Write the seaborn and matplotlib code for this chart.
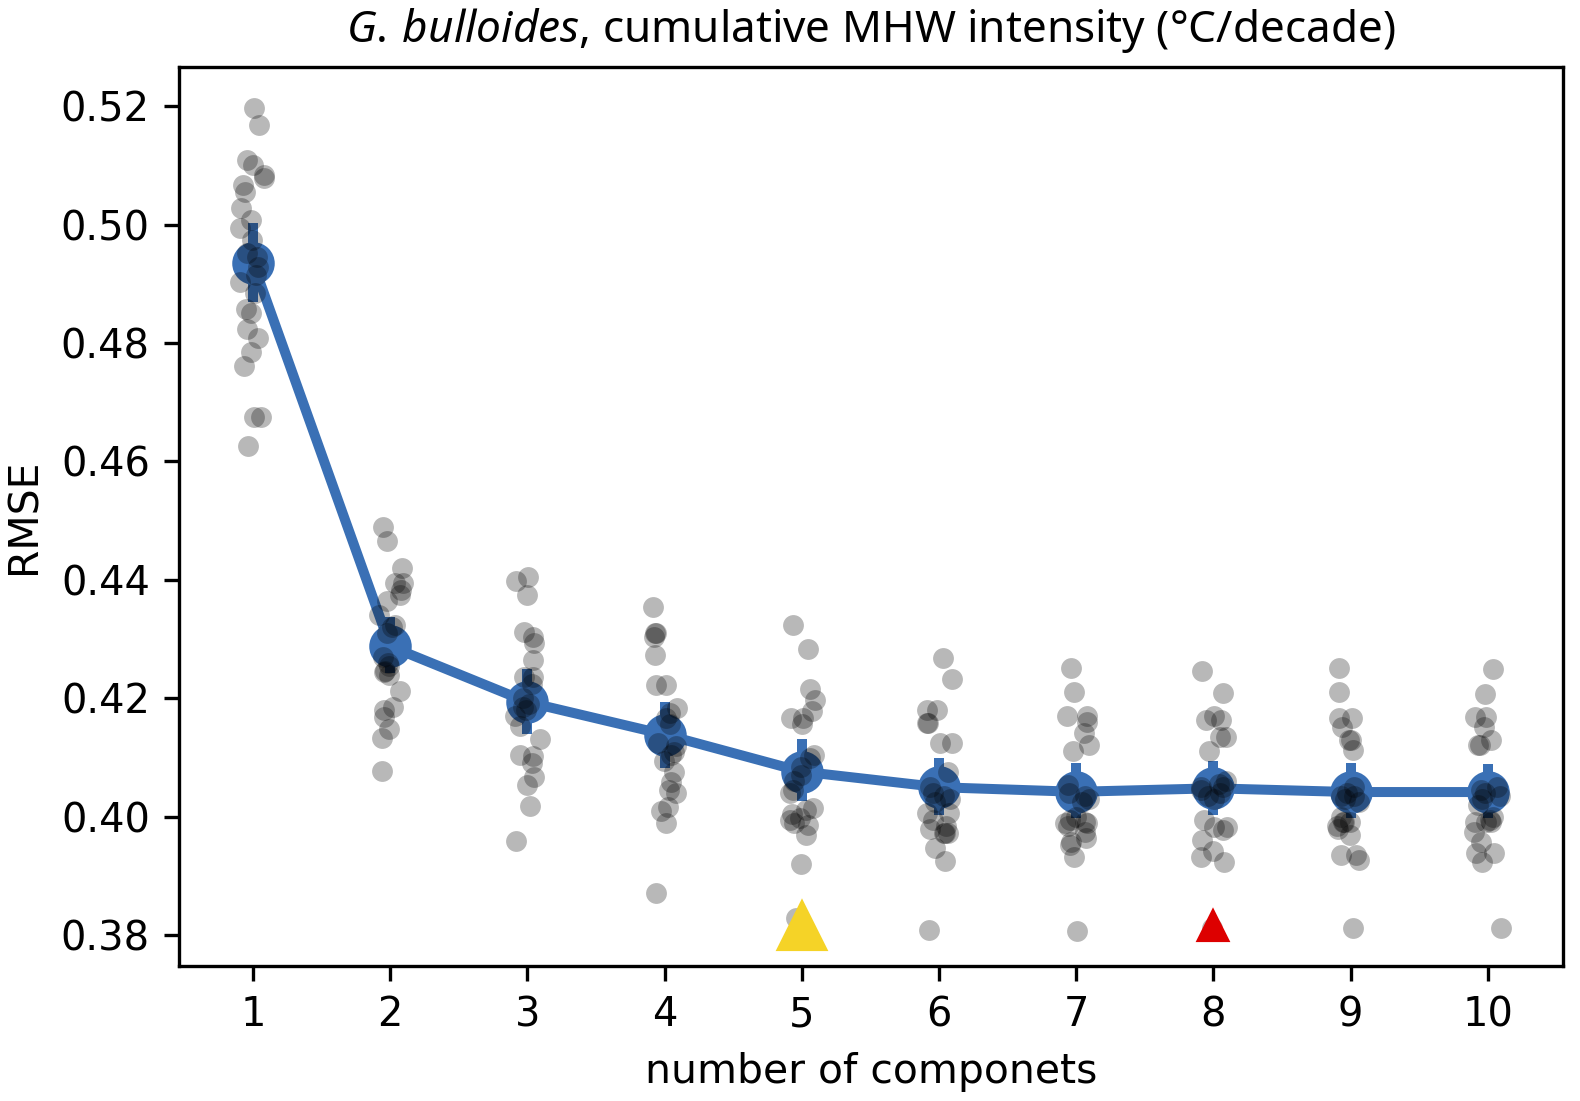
import numpy as np
import pandas as pd
import matplotlib
matplotlib.use('Agg')
import matplotlib.pyplot as plt
from matplotlib import font_manager
import seaborn as sns

# ── 1. Data: RMSE of each CV repeat, per number of components ──────────
components = [1, 2, 3, 4, 5, 6, 7, 8, 9, 10]

rmse_k1 = [0.5197, 0.5168, 0.5109, 0.5100, 0.5083, 0.5078, 0.5067, 0.5055,
           0.5028, 0.5007, 0.4994, 0.4974, 0.4945, 0.4952, 0.4928, 0.4915,
           0.4903, 0.4884, 0.4857, 0.4850, 0.4823, 0.4808, 0.4784, 0.4762,
           0.4675, 0.4675, 0.4626]
rmse_k2 = [0.4489, 0.4465, 0.4420, 0.4394, 0.4394, 0.4383, 0.4374, 0.4364,
           0.4340, 0.4323, 0.4320, 0.4310, 0.4269, 0.4260, 0.4255, 0.4245,
           0.4247, 0.4239, 0.4212, 0.4185, 0.4180, 0.4168, 0.4149, 0.4133,
           0.4077]
rmse_k3 = [0.4405, 0.4398, 0.4374, 0.4312, 0.4303, 0.4293, 0.4264, 0.4236,
           0.4236, 0.4225, 0.4200, 0.4190, 0.4185, 0.4180, 0.4170, 0.4153,
           0.4131, 0.4104, 0.4102, 0.4090, 0.4067, 0.4053, 0.4018, 0.3959]
rmse_k4 = [0.4355, 0.4310, 0.4310, 0.4303, 0.4274, 0.4222, 0.4222, 0.4183,
           0.4175, 0.4166, 0.4156, 0.4124, 0.4120, 0.4110, 0.4105, 0.4095,
           0.4075, 0.4058, 0.4045, 0.4040, 0.4016, 0.4009, 0.3989, 0.3871]
rmse_k5 = [0.4323, 0.4283, 0.4215, 0.4197, 0.4178, 0.4166, 0.4166, 0.4156,
           0.4104, 0.4100, 0.4084, 0.4070, 0.4060, 0.4045, 0.4041, 0.4015,
           0.4011, 0.4005, 0.3998, 0.3995, 0.3990, 0.3986, 0.3969, 0.3921,
           0.3829]
rmse_k6 = [0.4268, 0.4232, 0.4180, 0.4180, 0.4158, 0.4158, 0.4124, 0.4124,
           0.4075, 0.4050, 0.4040, 0.4035, 0.4030, 0.4025, 0.4006, 0.4006,
           0.3995, 0.3985, 0.3980, 0.3972, 0.3972, 0.3972, 0.3947, 0.3926,
           0.3808]
rmse_k7 = [0.4251, 0.4210, 0.4171, 0.4171, 0.4160, 0.4141, 0.4121, 0.4111,
           0.4053, 0.4040, 0.4035, 0.4030, 0.4025, 0.4000, 0.3995, 0.3991,
           0.3989, 0.3989, 0.3985, 0.3975, 0.3964, 0.3957, 0.3952, 0.3932,
           0.3807]
rmse_k8 = [0.4246, 0.4209, 0.4171, 0.4163, 0.4163, 0.4134, 0.4134, 0.4111,
           0.4060, 0.4055, 0.4050, 0.4050, 0.4045, 0.4040, 0.4035, 0.4030,
           0.3994, 0.3982, 0.3982, 0.3977, 0.3960, 0.3943, 0.3932, 0.3923,
           0.3813]
rmse_k9 = [0.4251, 0.4210, 0.4166, 0.4166, 0.4151, 0.4129, 0.4129, 0.4112,
           0.4050, 0.4040, 0.4035, 0.4035, 0.4030, 0.4025, 0.4000, 0.3991,
           0.3991, 0.3991, 0.3985, 0.3980, 0.3969, 0.3935, 0.3935, 0.3927,
           0.3812]
rmse_k10 = [0.4249, 0.4207, 0.4168, 0.4168, 0.4151, 0.4129, 0.4121, 0.4121,
            0.4050, 0.4045, 0.4040, 0.4035, 0.4030, 0.4020, 0.4000, 0.3995,
            0.3991, 0.3991, 0.3991, 0.3974, 0.3957, 0.3938, 0.3938, 0.3923,
            0.3812]

# chosen number of components (two selection criteria)
best_k_yellow = 5
best_k_red = 8
marker_rmse = 0.3815

all_rmse = [rmse_k1, rmse_k2, rmse_k3, rmse_k4, rmse_k5,
            rmse_k6, rmse_k7, rmse_k8, rmse_k9, rmse_k10]

df = pd.DataFrame({
    'k': np.concatenate([[k] * len(v) for k, v in zip(components, all_rmse)]),
    'rmse': np.concatenate(all_rmse),
})

# ── 2. Fonts ──────────────────────────────────────────────────────────
names = {f.name for f in font_manager.fontManager.ttflist}
title_font = 'Liberation Sans Narrow' if 'Liberation Sans Narrow' in names else 'Noto Sans'
plt.rcParams['font.family'] = ['DejaVu Sans']
plt.rcParams['mathtext.fontset'] = 'custom'
plt.rcParams['mathtext.rm'] = title_font
plt.rcParams['mathtext.it'] = title_font + ':italic'

blue = '#3a70b5'

# ── 3. Plot ───────────────────────────────────────────────────────────
np.random.seed(3)
fig = plt.figure(figsize=(1580 / 300, 1101 / 300), dpi=300)
ax = fig.add_axes([0.1133, 0.1226, 0.8759, 0.8165])

sns.pointplot(data=df, x='k', y='rmse', color=blue, errorbar=('ci', 95),
              seed=1, markersize=8.4, linewidth=2.4,
              err_kws={'linewidth': 2.4}, ax=ax)
sns.stripplot(data=df, x='k', y='rmse', color='black', alpha=0.28,
              size=5, linewidth=0, jitter=True, zorder=4, ax=ax)

ax.plot(components.index(best_k_yellow), marker_rmse, marker='^',
        color='#f5d327', markersize=11, linestyle='none', zorder=5)
ax.plot(components.index(best_k_red), marker_rmse, marker='^',
        color='#dd0000', markersize=6.5, linestyle='none', zorder=5)

ax.set_xlim(-0.54, 9.547)
ax.set_ylim(0.3748, 0.5266)
yticks = [0.38, 0.40, 0.42, 0.44, 0.46, 0.48, 0.50, 0.52]
ax.set_yticks(yticks)
ax.set_yticklabels([f'{v:.2f}' for v in yticks])
ax.tick_params(labelsize=9.6)
ax.set_xlabel('number of componets', fontsize=9.8)
ax.set_ylabel('RMSE', fontsize=9.8)
ax.set_title(r'$\it{G.\,bulloides}$, cumulative MHW intensity (°C/decade)',
             fontsize=10.6, family=title_font)
for s in ax.spines.values():
    s.set_linewidth(0.8)

fig.savefig('out.png', dpi=300)
print("Saved: out.png")
